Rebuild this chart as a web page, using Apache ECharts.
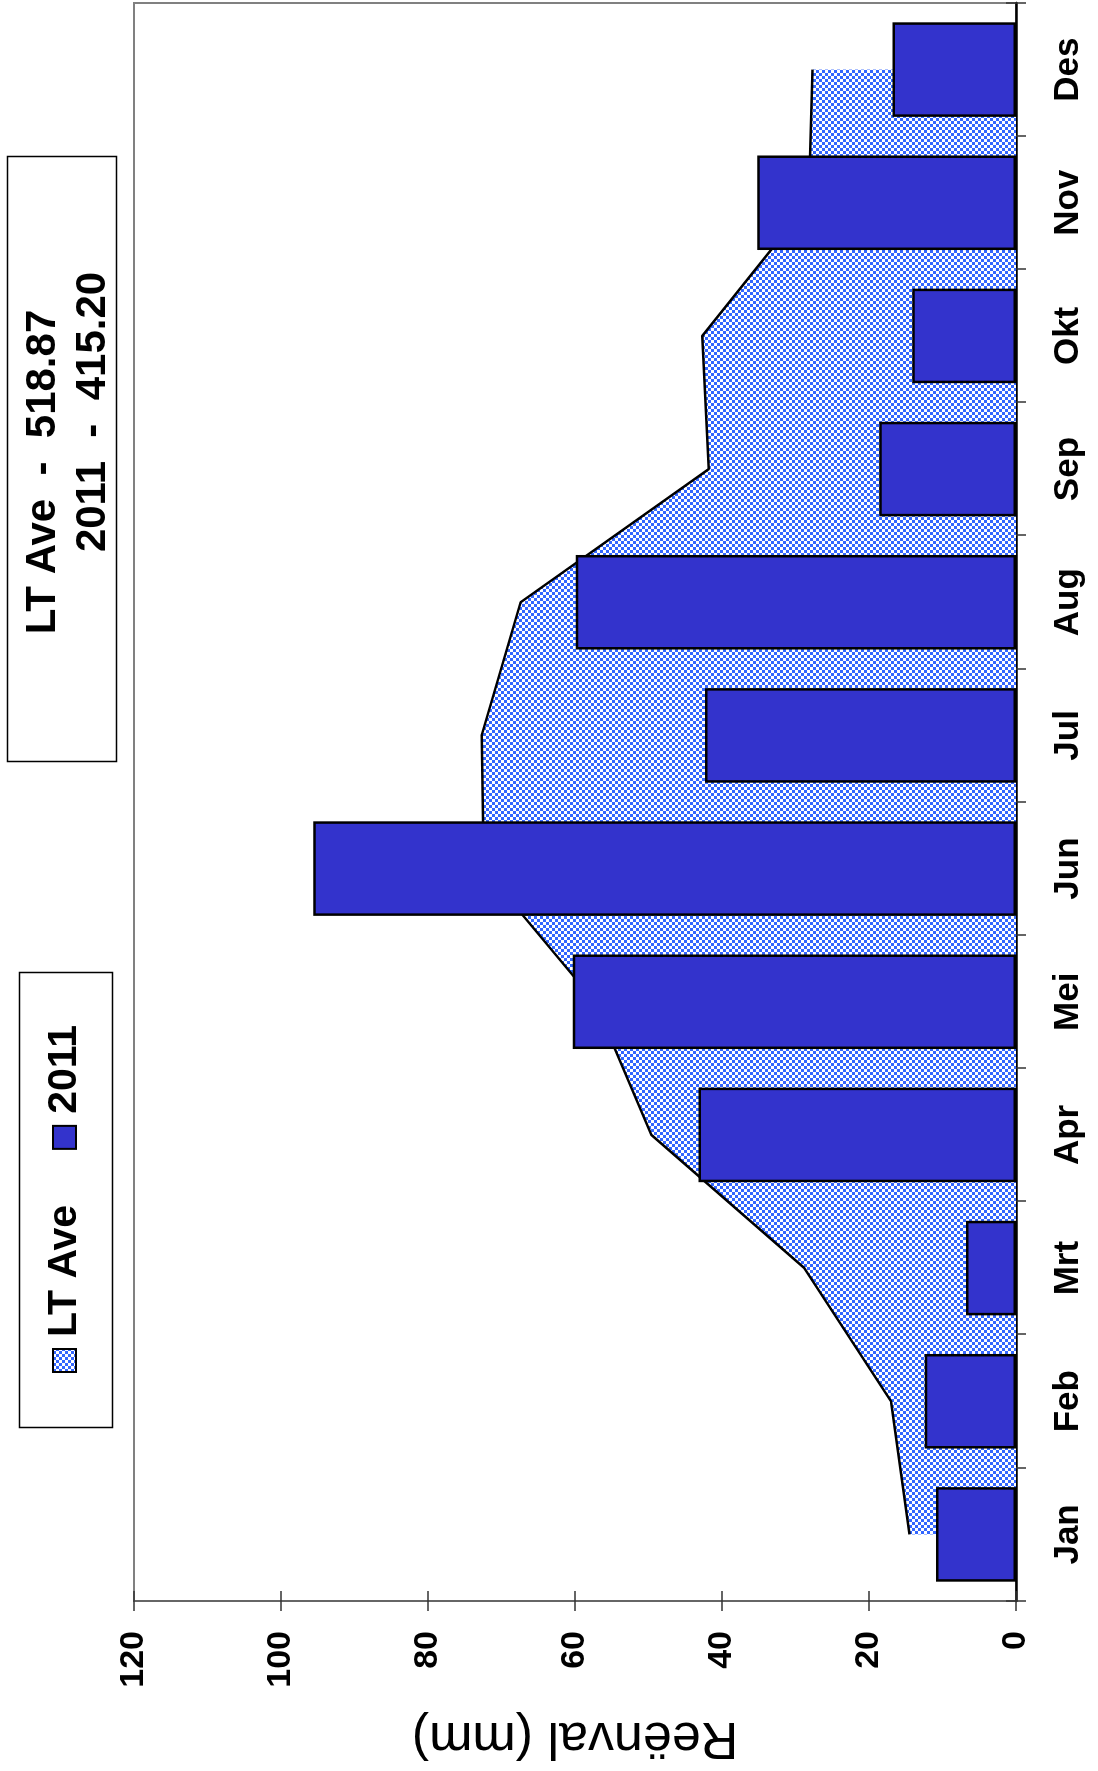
<!DOCTYPE html>
<html>
<head>
<meta charset="utf-8">
<script src="https://cdn.jsdelivr.net/npm/echarts@6/dist/echarts.min.js"></script>
<style>
html,body{margin:0;padding:0;background:#fff;overflow:hidden;width:1098px;height:1771px;}
#chart{position:absolute;left:0;top:0;width:1771px;height:1098px;transform-origin:0 0;transform:translate(0,1771px) rotate(-90deg);}
</style>
</head>
<body>
<div id="chart"></div>
<script>
const months = ['Jan','Feb','Mrt','Apr','Mei','Jun','Jul','Aug','Sep','Okt','Nov','Des'];
const ltAve = [14.5, 17.0, 28.8, 49.6, 57.3, 72.4, 72.7, 67.4, 41.8, 42.7, 28.2, 27.7];
const y2011 = [10.9, 12.4, 6.8, 43.2, 60.3, 95.6, 42.3, 59.9, 18.6, 14.1, 35.2, 16.8];
const valueMin = 0, valueMax = 120, valueStep = 20;
const seriesNames = ['LT Ave', '2011'];
const statLines = ['LT Ave  -  518.87', '2011  -  415.20'];
const axisTitle = 'Reënval (mm)';

const FONT = '"Liberation Sans", Arial, sans-serif';
const pc = document.createElement('canvas');
pc.width = 6; pc.height = 6;
const g = pc.getContext('2d');
g.fillStyle = '#ffffff'; g.fillRect(0,0,6,6);
g.fillStyle = '#3366ff'; g.fillRect(0,0,3,3); g.fillRect(3,3,3,3);
const pattern = {image: pc, repeat: 'repeat'};

const chart = echarts.init(document.getElementById('chart'), null, {renderer:'canvas'});
const option = {
  animation: false,
  backgroundColor: '#ffffff',
  grid: {left:168, right:3, top:134, bottom:82, show:true, borderColor:'#808080', borderWidth:2, containLabel:false},
  legend: {
    data: [
      {name: seriesNames[0], icon:'rect', itemStyle:{color:pattern, borderColor:'#000', borderWidth:2}},
      {name: seriesNames[1], icon:'rect', itemStyle:{color:'#3333cc', borderColor:'#000', borderWidth:2}}
    ],
    left: 398, top: 44, padding: 0, itemWidth: 23, itemHeight: 23, itemGap: 55,
    textStyle: {fontSize:41, fontWeight:'bold', color:'#000', fontFamily:FONT, lineHeight:40, padding:[0,0,0,7]}
  },
  xAxis: [{
    type:'category', data: months, boundaryGap:true, position:'bottom',
    axisLine:{show:true, lineStyle:{color:'#000', width:2.5}},
    axisTick:{show:true, length:10, lineStyle:{color:'#333', width:1.5}},
    axisLabel:{margin:35, fontSize:35, fontWeight:'bold', color:'#000', fontFamily:FONT},
    splitLine:{show:false}
  },{
    type:'category', data: months, boundaryGap:true, position:'bottom',
    axisLine:{show:false},
    axisTick:{show:true, inside:true, length:10, lineStyle:{color:'#333', width:1.5}},
    axisLabel:{show:false}, splitLine:{show:false}
  }],
  yAxis: [{
    type:'value', min:valueMin, max:valueMax, interval:valueStep, position:'left',
    axisLine:{show:true, lineStyle:{color:'#666', width:2}},
    axisTick:{show:true, length:10, lineStyle:{color:'#333', width:1.5}},
    axisLabel:{margin:30, fontSize:34, fontWeight:'bold', color:'#000', fontFamily:FONT},
    splitLine:{show:false},
    name: axisTitle, nameLocation:'middle', nameGap:110, nameRotate:90,
    nameTextStyle:{fontSize:52, color:'#000', fontFamily:FONT}
  },{
    type:'value', min:valueMin, max:valueMax, interval:valueStep, position:'left',
    axisLine:{show:false},
    axisTick:{show:true, inside:true, length:10, lineStyle:{color:'#333', width:1.5}},
    axisLabel:{show:false}, splitLine:{show:false}
  }],
  series: [{
    name: seriesNames[0], type:'line', data: ltAve, symbol:'none', z:2,
    lineStyle:{color:'#000', width:2.5},
    itemStyle:{color:pattern},
    areaStyle:{color:pattern, opacity:1, origin:'start'}
  },{
    name: seriesNames[1], type:'bar', data: y2011, barWidth:'71%', z:3,
    itemStyle:{color:'#3333cc', borderColor:'#000', borderWidth:2.5}
  }],
  graphic: [
    {type:'rect', left:341, top:17, shape:{width:455, height:93}, style:{fill:null, stroke:'#000', lineWidth:1.5}, z:10},
    {type:'rect', left:1007, top:5, shape:{width:605, height:109}, style:{fill:null, stroke:'#000', lineWidth:1.5}, z:10},
    {type:'text', x:1299, y:43, style:{text:statLines[0], font:'bold 42px '+FONT, fill:'#000', align:'center', verticalAlign:'middle'}, z:10},
    {type:'text', x:1359, y:93, style:{text:statLines[1], font:'bold 42px '+FONT, fill:'#000', align:'center', verticalAlign:'middle'}, z:10}
  ]
};
chart.setOption(option);
</script>
</body>
</html>
